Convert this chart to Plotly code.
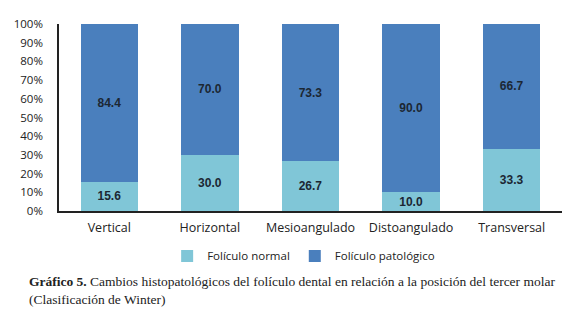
import plotly.graph_objects as go

categories = ["Vertical", "Horizontal", "Mesioangulado", "Distoangulado", "Transversal"]
normal = [15.6, 30.0, 26.7, 10.0, 33.3]
patologico = [84.4, 70.0, 73.3, 90.0, 66.7]
y_ticks = [0, 10, 20, 30, 40, 50, 60, 70, 80, 90, 100]
y_tick_labels = [f"{v}%" for v in y_ticks]

label_font = dict(family="Liberation Sans, Arial", size=12, color="#1c2733")

fig = go.Figure()
fig.add_trace(go.Bar(
    x=categories, y=normal, name="Folículo normal",
    marker=dict(color="#80c6d7", line=dict(width=0)),
    text=[f"{v:.1f}" for v in normal], textposition="inside",
    insidetextanchor="middle", textfont=label_font, texttemplate="<b>%{text}</b>",
))
fig.add_trace(go.Bar(
    x=categories, y=patologico, name="Folículo patológico",
    marker=dict(color="#4a7fbd", line=dict(width=0)),
    text=[f"{v:.1f}" for v in patologico], textposition="inside",
    insidetextanchor="middle", textfont=label_font, texttemplate="<b>%{text}</b>",
))

fig.update_layout(
    barmode="stack",
    bargap=0.43,
    width=576, height=311,
    margin=dict(l=51, r=22, t=16, b=108, autoexpand=False),
    paper_bgcolor="white", plot_bgcolor="white",
    font=dict(family="Open Sans, Noto Sans", size=11, color="#222222"),
    showlegend=True,
    legend=dict(orientation="h", x=0.215, xanchor="left", y=-0.24, yanchor="middle",
                font=dict(size=11.5, color="#222222"), traceorder="normal",
                itemwidth=30),
    uniformtext=dict(minsize=11, mode="show"),
)
fig.update_yaxes(
    range=[0, 100], tickvals=y_ticks, ticktext=y_tick_labels, automargin=False,
    showgrid=False, zeroline=False, showline=True, linecolor="#222222", linewidth=1.5,
    ticks="", ticklabelstandoff=12, tickfont=dict(size=11.5, color="#222222"),
)
fig.update_xaxes(
    showgrid=False, showline=True, linecolor="#222222", linewidth=1.5, automargin=False,
    ticks="", ticklabelstandoff=4, tickfont=dict(size=12.5, color="#222222"),
)

fig.add_annotation(
    xref="paper", yref="paper", x=-0.064, y=-0.325, xanchor="left", yanchor="top",
    align="left", showarrow=False,
    text="<b>Gráfico 5.</b> Cambios histopatológicos del folículo dental en relación a la posición del tercer molar<br>(Clasificación de Winter)",
    font=dict(family="Liberation Serif, Times New Roman", size=13.5, color="#222222"),
)

fig.write_html("out.html")
